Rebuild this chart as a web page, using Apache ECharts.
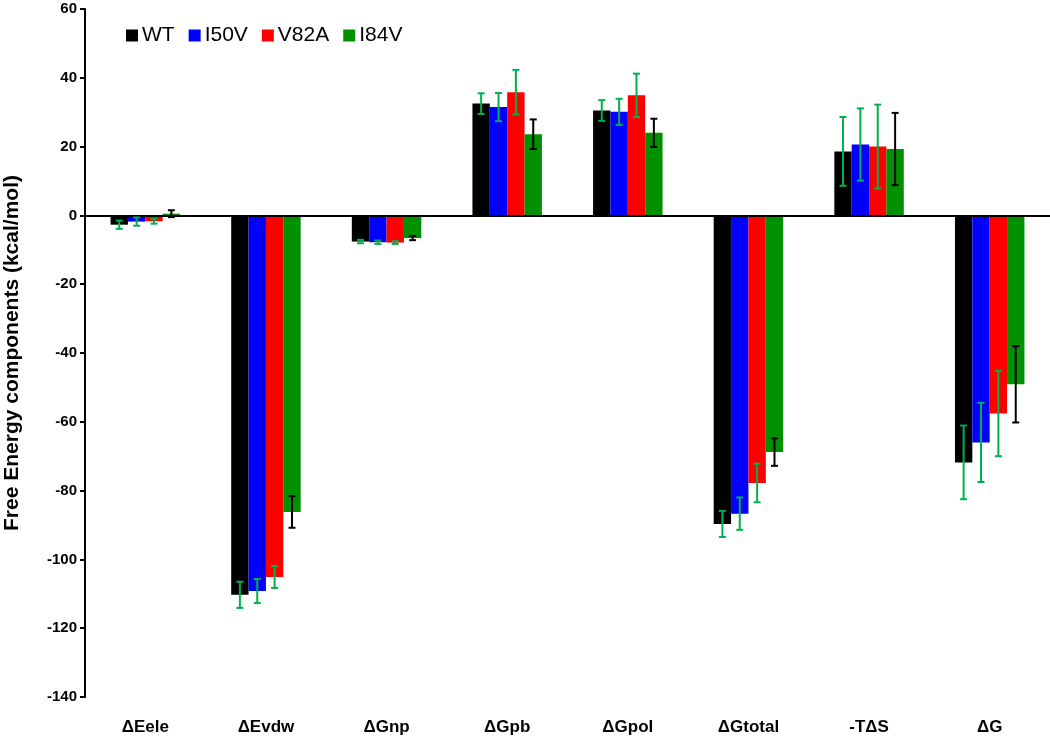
<!DOCTYPE html>
<html>
<head>
<meta charset="utf-8">
<script src="https://cdn.jsdelivr.net/npm/echarts@6/dist/echarts.min.js"></script>
<style>
html,body{margin:0;padding:0;background:#fff;}
#chart{width:1050px;height:747px;}
</style>
</head>
<body>
<div id="chart"></div>
<script>
const categories = ['ΔEele','ΔEvdw','ΔGnp','ΔGpb','ΔGpol','ΔGtotal','-TΔS','ΔG'];
const seriesNames = ['WT','I50V','V82A','I84V'];
const WT   = [-2.7, -110.3, -7.6, 32.5, 30.5, -89.7, 18.6, -71.8];
const I50V = [-1.8, -109.2, -7.8, 31.5, 30.1, -86.7, 20.6, -66.0];
const V82A = [-1.7, -105.1, -7.9, 35.8, 34.9, -77.8, 20.0, -57.6];
const I84V = [0.5, -86.2, -6.6, 23.6, 24.0, -68.8, 19.3, -49.1];
const WT_err   = [1.2, 3.8, 0.5, 3.0, 3.0, 3.8, 10.0, 10.7];
const I50V_err = [1.2, 3.5, 0.5, 4.1, 3.8, 4.7, 10.5, 11.5];
const V82A_err = [0.7, 3.2, 0.4, 6.5, 6.3, 5.6, 12.2, 12.4];
const I84V_err = [1.0, 4.6, 0.6, 4.3, 4.1, 4.0, 10.5, 11.1];
const yTicks = {min: -140, max: 60, interval: 20};

const values = [WT, I50V, V82A, I84V];
const errs = [WT_err, I50V_err, V82A_err, I84V_err];
const barColors = ['#000000', '#0000ff', '#ff0000', '#009000'];
const errColors = ['#00b050', '#00b050', '#00b050', '#000000'];
const BAR_FRAC = 0.144;

const chart = echarts.init(document.getElementById('chart'));
const series = [];
values.forEach((vals, i) => {
  const s = {
    name: seriesNames[i],
    type: 'bar',
    data: vals,
    barWidth: (BAR_FRAC * 100) + '%',
    barGap: '0%',
    itemStyle: {color: barColors[i]},
    z: 2
  };
  if (i === 0) {
    s.markLine = {
      silent: true,
      symbol: ['none', 'none'],
      label: {show: false},
      lineStyle: {color: '#000', width: 2, type: 'solid'},
      data: [{yAxis: 0}],
      z: 5
    };
  }
  series.push(s);
});
values.forEach((vals, i) => {
  series.push({
    type: 'custom',
    name: seriesNames[i] + ' err',
    data: vals.map((v, k) => [k, v, errs[i][k]]),
    encode: {x: 0, y: 1},
    z: 10,
    silent: true,
    renderItem: function (params, api) {
      const k = api.value(0), v = api.value(1), e = api.value(2);
      const band = api.size([1, 0])[0];
      const bw = band * BAR_FRAC;
      const c = api.coord([k, v]);
      const x = c[0] + (i - 1.5) * bw;
      const top = api.coord([k, v + e])[1];
      const bot = api.coord([k, v - e])[1];
      const cap = 3.5;
      const st = {stroke: errColors[i], lineWidth: 2};
      return {
        type: 'group',
        children: [
          {type: 'line', shape: {x1: x, y1: top, x2: x, y2: bot}, style: st},
          {type: 'line', shape: {x1: x - cap, y1: top, x2: x + cap, y2: top}, style: st},
          {type: 'line', shape: {x1: x - cap, y1: bot, x2: x + cap, y2: bot}, style: st}
        ]
      };
    }
  });
});

chart.setOption({
  animation: false,
  backgroundColor: '#fff',
  textStyle: {fontFamily: 'Liberation Sans, Arial, sans-serif'},
  legend: {
    data: seriesNames,
    left: 121,
    top: 20,
    icon: 'rect',
    itemWidth: 12,
    itemHeight: 12,
    itemGap: 14,
    textStyle: {fontSize: 21, color: '#000', fontFamily: 'Liberation Sans, Arial, sans-serif', padding: [0, 0, 0, -1]}
  },
  grid: {left: 85, right: 0, top: 9, bottom: 50, containLabel: false, outerBoundsMode: 'none'},
  xAxis: {
    type: 'category',
    data: categories,
    axisLine: {show: false, onZero: false},
    axisTick: {show: false},
    axisLabel: {fontSize: 17, fontWeight: 'bold', color: '#000', margin: 22, interval: 0}
  },
  yAxis: {
    type: 'value',
    min: yTicks.min,
    max: yTicks.max,
    interval: yTicks.interval,
    name: 'Free Energy components (kcal/mol)',
    nameLocation: 'middle',
    nameGap: 62,
    nameTextStyle: {fontSize: 21, fontWeight: 'bold', color: '#000'},
    axisLine: {show: true, lineStyle: {color: '#000', width: 2}},
    axisTick: {show: true, length: 5, lineStyle: {color: '#000', width: 2}},
    axisLabel: {fontSize: 15, fontWeight: 'bold', color: '#000', margin: 8},
    splitLine: {show: false}
  },
  series: series
});
</script>
</body>
</html>
